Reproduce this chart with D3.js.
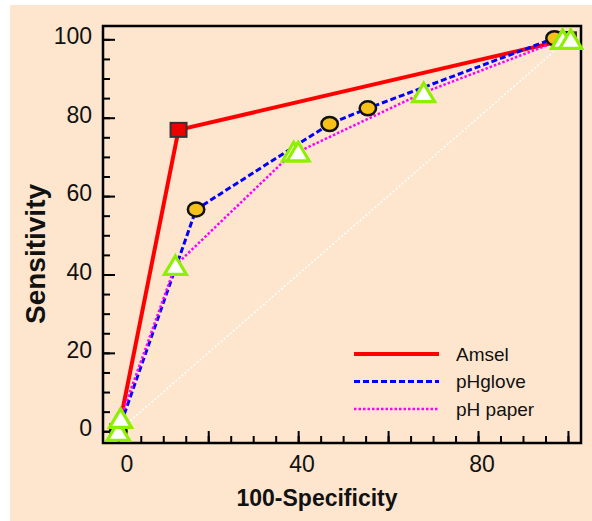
<!DOCTYPE html>
<html>
<head>
<meta charset="utf-8">
<script src="https://cdn.jsdelivr.net/npm/d3@7"></script>
<style>
  body { margin: 0; background: #fff; }
  text { font-family: "Liberation Sans", Arial, sans-serif; }
</style>
</head>
<body>
<div id="chart"></div>
<script>
// ROC curves: x = 100-Specificity, y = Sensitivity
var amselX = [0, 13.4, 100];
var amselY = [0, 76.9, 100];
var gloveX = [0, 17.3, 47, 55.5, 97, 100];
var gloveY = [0, 56.6, 78.4, 82.4, 100.3, 100];
var paperX = [0, 0.5, 12.7, 39, 40, 67.9, 98.8, 100.6];
var paperY = [0, 3.3, 42.3, 71.3, 71.3, 86.4, 100, 100];
var seriesNames = ["Amsel", "pHglove", "pH paper"];
var yTickLabels = [0, 20, 40, 60, 80, 100];
var xTickLabels = [0, 40, 80];

var W = 592, H = 521;
var svg = d3.select("#chart").append("svg")
  .attr("width", W).attr("height", H);

// peach backdrop
svg.append("rect")
  .attr("x", 10).attr("y", 5)
  .attr("width", W - 10).attr("height", H - 5)
  .attr("fill", "#fde5ce");

var x = d3.scaleLinear().domain([-3.4, 102.9]).range([103, 581]);
var y = d3.scaleLinear().domain([-3, 103.4]).range([443, 26]);

function zip(xs, ys) {
  return xs.map(function (v, i) { return { x: v, y: ys[i] }; });
}
var amsel = zip(amselX, amselY);
var glove = zip(gloveX, gloveY);
var paper = zip(paperX, paperY);

var line = d3.line()
  .x(function (d) { return x(d.x); })
  .y(function (d) { return y(d.y); });

// minor ticks
svg.append("g")
  .attr("transform", "translate(" + x.range()[0] + ",0)")
  .call(d3.axisLeft(y).tickValues(d3.range(0, 101, 5)).tickSize(-7).tickFormat(""))
  .call(function (g) { g.select(".domain").remove(); })
  .selectAll("line").attr("stroke-width", 2);
svg.append("g")
  .attr("transform", "translate(0," + y.range()[0] + ")")
  .call(d3.axisBottom(x).tickValues(d3.range(0, 101, 5)).tickSize(-7).tickFormat(""))
  .call(function (g) { g.select(".domain").remove(); })
  .selectAll("line").attr("stroke-width", 2);

// major ticks + labels
var yAxis = svg.append("g")
  .attr("transform", "translate(" + x.range()[0] + ",0)")
  .call(d3.axisLeft(y).tickValues(yTickLabels).tickSize(-12).tickPadding(11))
  .call(function (g) { g.select(".domain").remove(); });
yAxis.selectAll("line").attr("stroke-width", 2);
yAxis.selectAll("text")
  .attr("font-size", 23).attr("fill", "#111").attr("dy", "0.2em")
  .style("font-family", "Liberation Sans, Arial, sans-serif");

var xAxis = svg.append("g")
  .attr("transform", "translate(0," + y.range()[0] + ")")
  .call(d3.axisBottom(x).tickValues(d3.range(0, 101, 20)).tickSize(-12).tickPadding(13)
    .tickFormat(function (d) { return xTickLabels.indexOf(d) >= 0 ? d : ""; }))
  .call(function (g) { g.select(".domain").remove(); });
xAxis.selectAll("line").attr("stroke-width", 2);
xAxis.selectAll("text")
  .attr("font-size", 23).attr("fill", "#111")
  .attr("dx", function (d) { return d === 0 ? "0.35em" : "0.15em"; })
  .style("font-family", "Liberation Sans, Arial, sans-serif");

// frame
svg.append("rect")
  .attr("x", x.range()[0]).attr("y", y.range()[1])
  .attr("width", x.range()[1] - x.range()[0])
  .attr("height", y.range()[0] - y.range()[1])
  .attr("fill", "none").attr("stroke", "#000").attr("stroke-width", 2.5);

// diagonal reference
svg.append("line")
  .attr("x1", x(0)).attr("y1", y(0))
  .attr("x2", x(100)).attr("y2", y(100))
  .attr("stroke", "#fff").attr("stroke-width", 1.5)
  .attr("stroke-dasharray", "2,2");

// lines
svg.append("path").datum(amsel)
  .attr("fill", "none").attr("stroke", "#ff0000").attr("stroke-width", 4)
  .attr("d", line);
svg.append("path").datum(glove)
  .attr("fill", "none").attr("stroke", "#0000ff").attr("stroke-width", 3)
  .attr("stroke-dasharray", "6,3")
  .attr("d", line);
svg.append("path").datum(paper)
  .attr("fill", "none").attr("stroke", "#ff00ff").attr("stroke-width", 2.5)
  .attr("stroke-dasharray", "2.5,2")
  .attr("d", line);

// markers
svg.selectAll(".sq").data(amsel).enter().append("rect")
  .attr("class", "sq")
  .attr("x", function (d) { return x(d.x) - 8; })
  .attr("y", function (d) { return y(d.y) - 7; })
  .attr("width", 16).attr("height", 14)
  .attr("fill", "#ee0000").attr("stroke", "#333").attr("stroke-width", 2);

svg.selectAll(".ci").data(glove).enter().append("ellipse")
  .attr("class", "ci")
  .attr("cx", function (d) { return x(d.x); })
  .attr("cy", function (d) { return y(d.y); })
  .attr("rx", 8.2).attr("ry", 7)
  .attr("fill", "#f6c21a").attr("stroke", "#111").attr("stroke-width", 2.5);

svg.selectAll(".tr").data(paper).enter().append("path")
  .attr("class", "tr")
  .attr("transform", function (d) { return "translate(" + x(d.x) + "," + y(d.y) + ")"; })
  .attr("d", "M0,-9.5L11,9L-11,9Z")
  .attr("fill", "#fff").attr("stroke", "#8fef00").attr("stroke-width", 3.2)
  .attr("stroke-linejoin", "miter");

// legend
var legendStyles = [
  { color: "#ff0000", width: 4, dash: null },
  { color: "#0000ff", width: 3, dash: "6,3" },
  { color: "#ff00ff", width: 2.5, dash: "2.5,2" }
];
var lg = svg.append("g");
seriesNames.forEach(function (name, i) {
  var yy = 354 + i * 27.5;
  lg.append("line")
    .attr("x1", 354).attr("x2", 439).attr("y1", yy).attr("y2", yy)
    .attr("stroke", legendStyles[i].color)
    .attr("stroke-width", legendStyles[i].width)
    .attr("stroke-dasharray", legendStyles[i].dash);
  lg.append("text")
    .attr("x", 456).attr("y", yy).attr("dy", "0.35em")
    .attr("font-size", 19).attr("fill", "#111")
    .text(name);
});

// axis titles
svg.append("text")
  .attr("transform", "translate(45,254) rotate(-90)")
  .attr("text-anchor", "middle")
  .attr("font-size", 28).attr("font-weight", "bold").attr("fill", "#111")
  .text("Sensitivity");
svg.append("text")
  .attr("x", 317).attr("y", 506)
  .attr("text-anchor", "middle")
  .attr("font-size", 23).attr("font-weight", "bold").attr("fill", "#111")
  .text("100-Specificity");
</script>
</body>
</html>
